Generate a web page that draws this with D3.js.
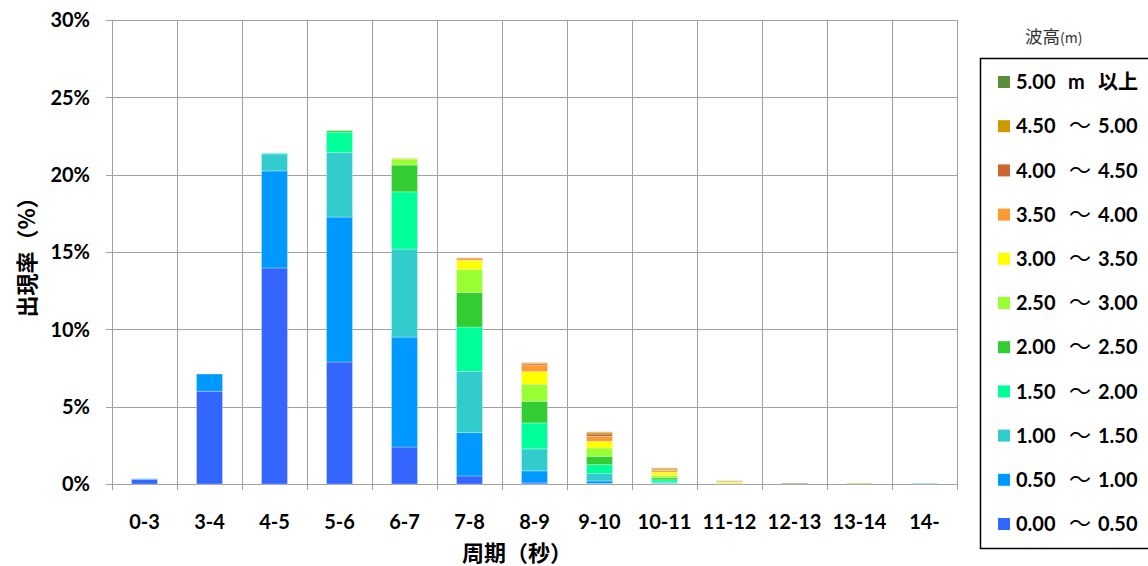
<!DOCTYPE html>
<html><head><meta charset="utf-8">
<script src="https://cdn.jsdelivr.net/npm/d3@7"></script>
<style>
body{margin:0;background:#fff;}
svg{display:block;font-family:Lato,"Noto Sans CJK JP",sans-serif;}
</style></head><body>
<svg id="c" width="1148" height="566"></svg>
<script>
const categories = ["0-3","3-4","4-5","5-6","6-7","7-8","8-9","9-10","10-11","11-12","12-13","13-14","14-"];
const seriesNames = ["0.00 ～ 0.50","0.50 ～ 1.00","1.00 ～ 1.50","1.50 ～ 2.00","2.00 ～ 2.50","2.50 ～ 3.00","3.00 ～ 3.50","3.50 ～ 4.00","4.00 ～ 4.50","4.50 ～ 5.00","5.00 m 以上"];
const seriesColors = ["#3366FF","#0099FF","#33CCCC","#00FF99","#33CC33","#99FF33","#FFFF00","#FF9933","#CC6633","#CC9900","#5B8E3A"];
// values in % per category, one array per wave-height class
const h000_050 = [0.30, 6.00, 13.97, 7.89, 2.39, 0.52, 0.07, 0.03, 0.01, 0, 0, 0, 0];
const h050_100 = [0.04, 1.11, 6.27, 9.37, 7.11, 2.80, 0.78, 0.17, 0.04, 0, 0, 0, 0.03];
const h100_150 = [0, 0, 1.10, 4.16, 5.69, 3.96, 1.42, 0.47, 0.07, 0, 0, 0, 0];
const h150_200 = [0, 0, 0.05, 1.33, 3.70, 2.87, 1.68, 0.58, 0.15, 0, 0, 0, 0];
const h200_250 = [0, 0, 0, 0.10, 1.73, 2.22, 1.40, 0.54, 0.13, 0.02, 0, 0, 0];
const h250_300 = [0, 0, 0, 0, 0.39, 1.51, 1.10, 0.54, 0.15, 0.04, 0, 0, 0];
const h300_350 = [0, 0, 0, 0, 0.04, 0.58, 0.82, 0.43, 0.22, 0.06, 0, 0, 0];
const h350_400 = [0, 0, 0, 0, 0.03, 0.11, 0.43, 0.32, 0.11, 0.03, 0, 0, 0];
const h400_450 = [0, 0, 0, 0, 0, 0.05, 0.10, 0.15, 0.04, 0.02, 0, 0, 0];
const h450_500 = [0, 0, 0, 0, 0, 0, 0.05, 0.11, 0.10, 0.04, 0, 0.04, 0];
const h500_up  = [0, 0, 0, 0, 0, 0, 0, 0.03, 0.02, 0, 0.05, 0, 0];
const yTicks = [0,5,10,15,20,25,30];
const series = [h000_050,h050_100,h100_150,h150_200,h200_250,h250_300,h300_350,h350_400,h400_450,h450_500,h500_up];

const svg = d3.select("#c");
const m = {l:112, r:957, t:20, b:484};
const x = d3.scaleBand().domain(categories).range([m.l, m.r]).paddingInner(0.6).paddingOuter(0.3);
const xb = d3.scaleBand().domain(categories).range([m.l, m.r]);
const y = d3.scaleLinear().domain([0,30]).range([m.b, m.t]);
const grid = "#a0a0a0";

// gridlines
svg.append("g").selectAll("line").data(yTicks).join("line")
  .attr("x1", m.l-6).attr("x2", m.r).attr("y1", d=>Math.round(y(d))+0.5).attr("y2", d=>Math.round(y(d))+0.5)
  .attr("stroke", grid).attr("stroke-width",1);
const bounds = categories.map(c=>xb(c)).concat([m.r]);
svg.append("g").selectAll("line").data(bounds).join("line")
  .attr("x1", d=>Math.round(d)+0.5).attr("x2", d=>Math.round(d)+0.5).attr("y1", m.t).attr("y2", m.b+6)
  .attr("stroke", grid).attr("stroke-width",1);

// stacked data
const table = categories.map((c,i)=>{const o={cat:c}; series.forEach((s,j)=>o["s"+j]=s[i]); return o;});
const keys = series.map((s,j)=>"s"+j);
const stacked = d3.stack().keys(keys)(table);
svg.append("g").selectAll("g").data(stacked).join("g")
  .attr("fill", (d,i)=>seriesColors[i])
  .selectAll("rect").data(d=>d.filter(v=>v[1]-v[0]>0)).join("rect")
  .attr("x", d=>x(d.data.cat)).attr("width", x.bandwidth())
  .attr("y", d=>y(d[1])).attr("height", d=>y(d[0])-y(d[1]))
  .attr("stroke","#ffffff").attr("stroke-opacity",0.35).attr("stroke-width",0.8);

// y tick labels
svg.append("g").selectAll("text").data(yTicks).join("text")
  .attr("x", 90).attr("y", d=>y(d)).attr("dy","0.36em").attr("text-anchor","end")
  .attr("font-weight","bold").attr("font-size",20).attr("fill","#000").text(d=>d+"%");
// x tick labels
svg.append("g").selectAll("text").data(categories).join("text")
  .attr("x", d=>xb(d)+xb.bandwidth()/2).attr("y", 522).attr("dy","0.36em").attr("text-anchor","middle")
  .attr("font-weight","bold").attr("font-size",20).attr("fill","#000").text(d=>d);
// axis titles
svg.append("text").attr("x",517).attr("y",553).attr("dy","0.36em").attr("text-anchor","middle")
  .attr("font-weight","bold").attr("font-size",22).attr("font-family","'Noto Sans CJK JP',sans-serif").text("周期（秒）");
svg.append("text").attr("transform","translate(27,252) rotate(-90)").attr("dy","0.36em").attr("text-anchor","middle")
  .attr("font-weight","bold").attr("font-size",22).attr("font-family","'Noto Sans CJK JP',sans-serif").text("出現率（%）");

// legend
const lg = svg.append("g");
const t = lg.append("text").attr("x",1025).attr("y",37).attr("dy","0.36em")
  .attr("font-family","'Noto Sans CJK JP',sans-serif").attr("font-size",17.5).attr("fill","#333");
t.append("tspan").text("波高");
t.append("tspan").attr("font-size",14).text("(m)");
lg.append("rect").attr("x",980.5).attr("y",58.5).attr("width",180).attr("height",490)
  .attr("fill","none").attr("stroke","#000").attr("stroke-width",1.5);
const order = d3.range(series.length).reverse();
const rowY = d3.scalePoint().domain(order).range([82,524]);
const items = lg.selectAll("g.it").data(order).join("g").attr("class","it")
  .attr("transform", d=>`translate(0,${rowY(d)})`);
items.append("rect").attr("x",998).attr("y",-6).attr("width",12).attr("height",12).attr("fill", d=>seriesColors[d]);
const lt = items.append("text").attr("dy","0.36em").attr("font-weight","bold").attr("font-size",20).attr("fill","#000");
lt.each(function(d){
  const parts = seriesNames[d].split(" ");
  const el = d3.select(this);
  el.append("tspan").attr("x",1016).text(parts[0]);
  if (parts[1] === "m") {
    el.append("tspan").attr("x",1068).text(parts[1]);
    el.append("tspan").attr("x",1098).attr("font-family","'Noto Sans CJK JP',sans-serif").attr("font-size",20).text(parts[2]);
  } else {
    el.append("tspan").attr("x",1069).attr("font-family","'Noto Sans CJK JP',sans-serif").attr("font-weight","normal").attr("font-size",22).text(parts[1]);
    el.append("tspan").attr("x",1098).text(parts[2]);
  }
});
</script>
</body></html>
